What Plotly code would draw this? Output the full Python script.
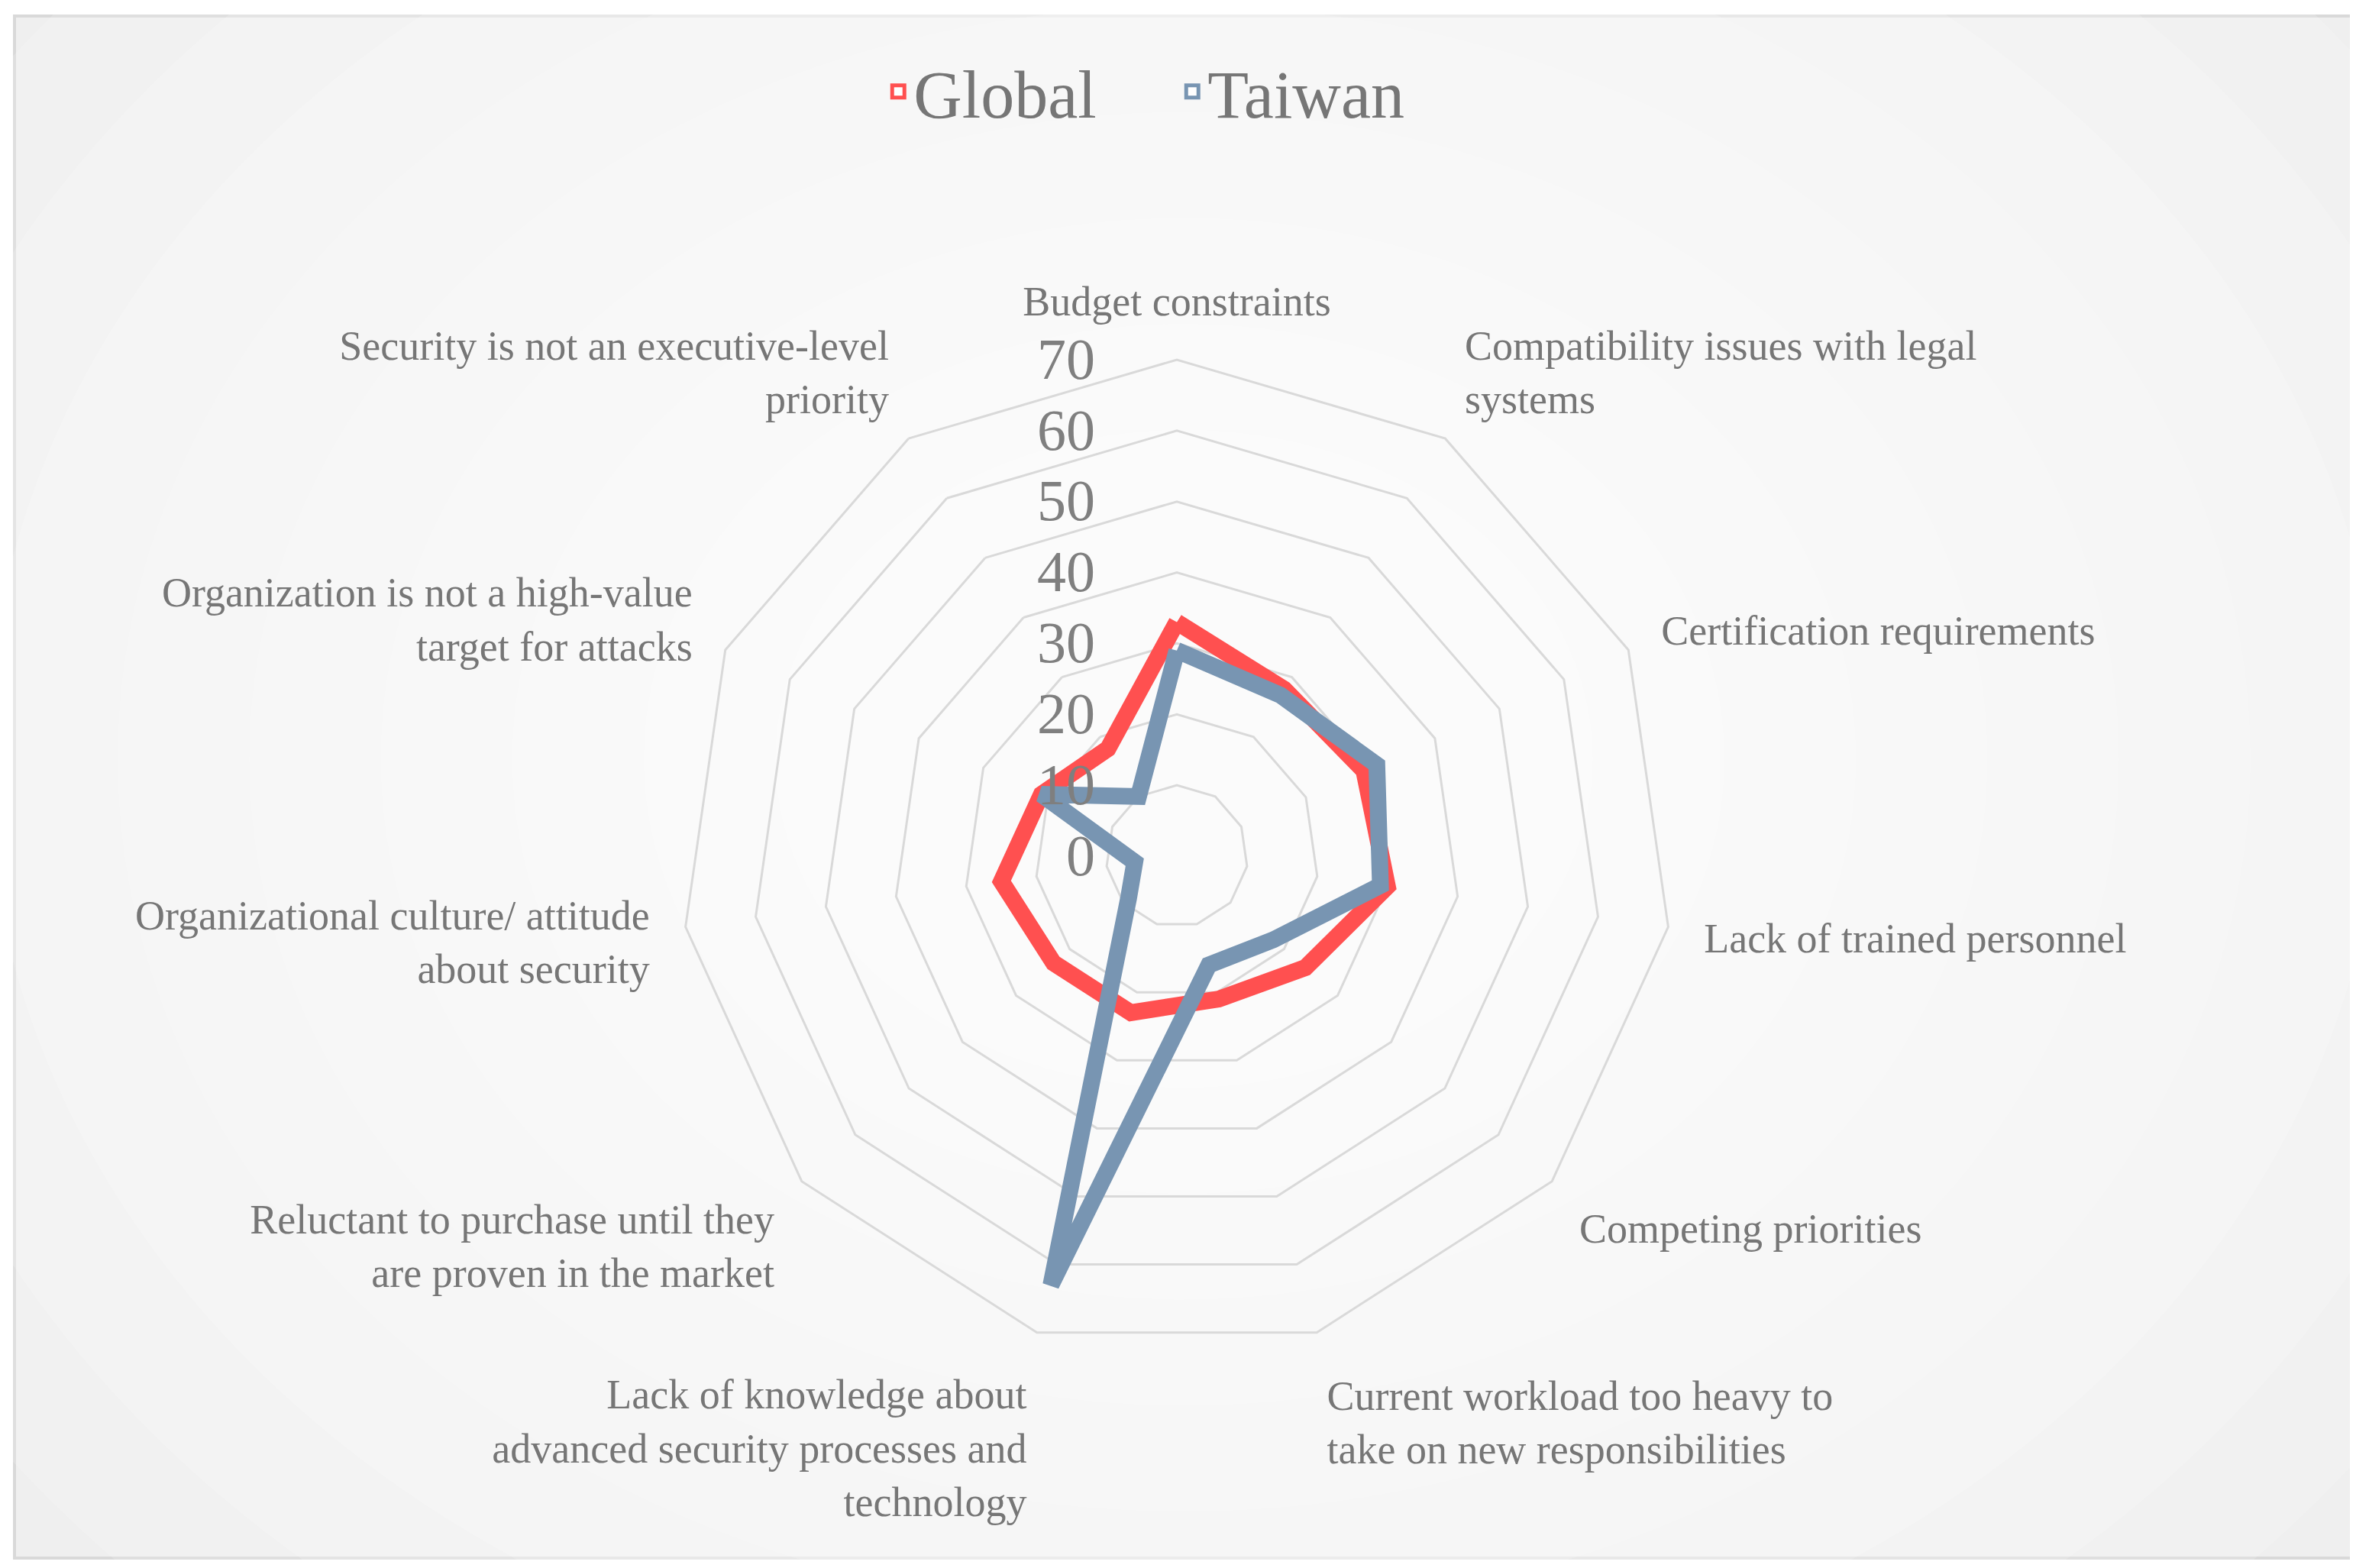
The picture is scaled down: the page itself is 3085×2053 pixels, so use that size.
import plotly.graph_objects as go

# categories, clockwise from the top
categories = [
    "Budget constraints",
    "Compatibility issues with legal<br>systems",
    "Certification requirements",
    "Lack of trained personnel",
    "Competing priorities",
    "Current workload too heavy to<br>take on new responsibilities",
    "Lack of knowledge about<br>advanced security processes and<br>technology",
    "Reluctant to purchase until they<br>are proven in the market",
    "Organizational culture/ attitude<br>about security",
    "Organization is not a high-value<br>target for attacks",
    "Security is not an executive-level<br>priority",
]
global_vals = [33, 28, 29, 30, 24, 21, 23, 23, 25, 21, 18]
taiwan_vals = [29, 27, 31, 29, 18, 16, 63, 9, 6, 21, 10]
radial_ticks = [0, 10, 20, 30, 40, 50, 60, 70]

RED = "#FF5050"
BLUE = "#7895B2"
GRID = "#d9d9d9"
TXT = "#767676"
FONT = "Palatino Linotype, Book Antiqua, Palatino, Liberation Serif, serif"

W, H = 3085, 2053

fig = go.Figure()

# closed loops
for name, vals, col in [("Global", global_vals, RED), ("Taiwan", taiwan_vals, BLUE)]:
    fig.add_trace(go.Scatterpolar(
        r=vals + vals[:1], theta=categories + categories[:1],
        mode="lines", line=dict(color=col, width=22),
        name=name, showlegend=False, hoverinfo="r+theta",
    ))

# legend entries (square with white centre, like the original)
for name, col in [("Global", RED), ("Taiwan", BLUE)]:
    fig.add_trace(go.Scatterpolar(
        r=[None], theta=[categories[0]], mode="markers", name=name,
        marker=dict(symbol="square", size=16, color="white",
                    line=dict(color=col, width=5)),
    ))

# background frame with a soft radial gradient
shapes = [dict(type="rect", xref="paper", yref="paper", x0=11 / W, x1=3072 / W,
               y0=1 - 2032 / H, y1=1 - 13 / H, fillcolor="#efefef",
               line=dict(color=GRID, width=4), layer="below")]
for k in range(10):
    f = 1 - k * 0.09
    shapes.append(dict(type="circle", xref="paper", yref="paper",
                       x0=0.5 - 0.62 * f, x1=0.5 + 0.62 * f,
                       y0=0.52 - 0.75 * f, y1=0.52 + 0.75 * f,
                       fillcolor="rgba(255,255,255,0.17)", line=dict(width=0),
                       layer="below"))

cx, cy, rad = 1533, 1113, 650
fig.update_layout(
    width=W, height=H,
    margin=dict(l=0, r=0, t=0, b=0),
    paper_bgcolor="white",
    font=dict(family=FONT, color=TXT),
    shapes=shapes,
    legend=dict(orientation="h", x=0.497, xanchor="center", y=1 - 112 / H,
                yanchor="middle", font=dict(size=88, color=TXT),
                bgcolor="rgba(0,0,0,0)", itemwidth=30, entrywidth=340),
    polar=dict(
        domain=dict(x=[(cx - rad) / W, (cx + rad) / W],
                    y=[1 - (cy + rad) / H, 1 - (cy - rad) / H]),
        bgcolor="rgba(0,0,0,0)",
        gridshape="linear",
        radialaxis=dict(range=[0, 70], tickvals=radial_ticks, angle=90,
                        side="counterclockwise", tickangle=90,
                        showline=False, ticks="outside", ticklen=80,
                        tickcolor="rgba(0,0,0,0)",
                        gridcolor=GRID, gridwidth=3,
                        tickfont=dict(size=76, color="#7f7f7f", family=FONT)),
        angularaxis=dict(direction="clockwise", rotation=90,
                         showgrid=False, showline=True, linecolor=GRID,
                         linewidth=3, ticks="outside", ticklen=35,
                         tickcolor="rgba(0,0,0,0)",
                         tickfont=dict(size=54, color=TXT, family=FONT)),
    ),
)

fig.write_html("out.html")
